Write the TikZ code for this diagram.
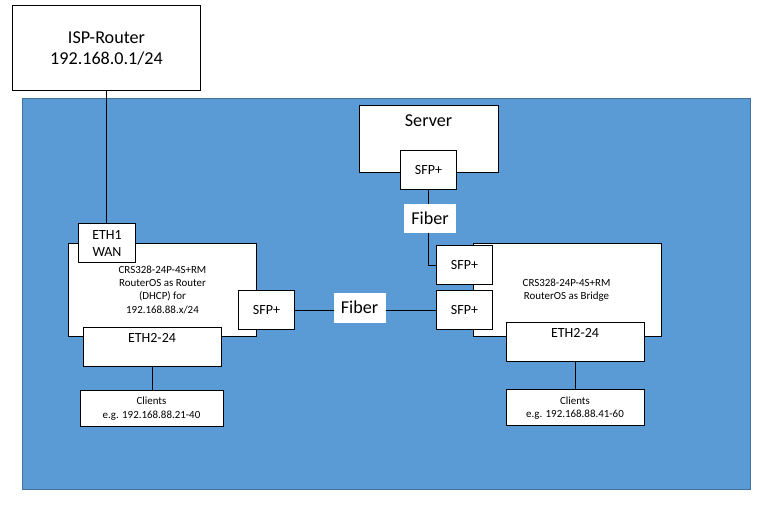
\documentclass[tikz,border=0pt]{standalone}
\usepackage{fontspec}
\setmainfont{Carlito}
\definecolor{panel}{HTML}{5B9BD5}
\definecolor{panelline}{HTML}{41719C}
\tikzset{
  x=0.75pt,y=-0.75pt,
  box/.style={draw=black,fill=white,line width=0.85pt,inner sep=0pt,outer sep=0pt,align=center},
  wire/.style={draw=black,line width=0.85pt},
  big/.style={font=\fontsize{13.6}{15.75}\selectfont,align=center,inner sep=0pt},
  mid/.style={font=\fontsize{10.5}{12.75}\selectfont,align=center,inner sep=0pt},
  tiny/.style={font=\fontsize{8.2}{10}\selectfont,align=center,inner sep=0pt},
  lab/.style={fill=white,inner sep=0pt,outer sep=0pt,align=center,font=\fontsize{13.6}{15}\selectfont}
}
% name, x1, y1, x2, y2, style, text
\newcommand{\bx}[7]{%
  \pgfmathsetmacro{\bw}{0.75*(#4-#2)}\pgfmathsetmacro{\bh}{0.75*(#5-#3)}%
  \node[box,#6,minimum width=\bw pt,minimum height=\bh pt] (#1) at ({(#2+#4)/2},{(#3+#5)/2}) {#7};}
\begin{document}
\begin{tikzpicture}
\useasboundingbox (0,0) rectangle (774,508);
\fill[white] (0,0) rectangle (774,508);
\draw[fill=panel,draw=panelline,line width=0.7pt] (22.5,98.5) rectangle (750.5,489.5);
\bx{isp}{12.5}{5.5}{200.5}{90.5}{big}{ISP-Router\\192.168.0.1/24}
\bx{server}{359.5}{105.5}{498.5}{172.5}{}{}
\node[big] (servertext) at (428.5,121) {Server};
\bx{sfps}{400.5}{150.5}{456.5}{189.5}{mid}{SFP+}
\bx{rl}{68.5}{243.5}{256.5}{336.5}{}{}
\node[tiny] (rltext) at (162.5,289.5) {CRS328-24P-4S+RM\\RouterOS as Router\\(DHCP) for\\192.168.88.x/24};
\bx{eth1}{78.5}{223.5}{135.5}{262.5}{mid}{ETH1\\WAN}
\bx{sfpl}{238.5}{290.5}{294.5}{329.5}{mid}{SFP+}
\bx{ethl}{83.5}{327.5}{221.5}{366.5}{}{}
\node[mid] (ethltext) at (152,338) {ETH2-24};
\bx{clil}{80.5}{390.5}{223.5}{426.5}{}{}
\node[tiny] (clilt) at (151.5,408.5) {Clients\\e.g. 192.168.88.21-40};
\bx{rr}{473.5}{243.5}{661.5}{336.5}{}{}
\node[tiny] (rrtext) at (566.5,290) {CRS328-24P-4S+RM\\RouterOS as Bridge};
\bx{sfpa}{436.5}{245.5}{492.5}{284.5}{mid}{SFP+}
\bx{sfpb}{436.5}{290.5}{492.5}{329.5}{mid}{SFP+}
\bx{ethr}{506.5}{322.5}{644.5}{361.5}{}{}
\node[mid] (ethrtext) at (575,332.5) {ETH2-24};
\bx{clir}{506.5}{389.5}{644.5}{425.5}{}{}
\node[tiny] (clirt) at (575,408) {Clients\\e.g. 192.168.88.41-60};
\node[lab,minimum width=39pt,minimum height=21.75pt] (fibert) at (430,218.5) {Fiber};
\node[lab,minimum width=39pt,minimum height=22.5pt] (fiberm) at (359.5,307.5) {Fiber};
\draw[wire] (isp.south) -- (isp.south |- eth1.north);
\draw[wire] ([yshift=-0.375pt]sfpl.east) -- ([yshift=-0.375pt]sfpl.east -| fiberm.west);
\draw[wire] ([yshift=-0.375pt]sfpb.west -| fiberm.east) -- ([yshift=-0.375pt]sfpb.west);
\draw[wire] (sfps.south) -- (sfps.south |- fibert.north);
\draw[wire] (sfps.south |- fibert.south) -- ([yshift=-0.375pt]sfps.south |- sfpa.west) -- ([yshift=-0.375pt]sfpa.west);
\draw[wire] (ethl.south) -- (ethl.south |- clil.north);
\draw[wire] (ethr.south) -- (clir.north);
\end{tikzpicture}
\end{document}
